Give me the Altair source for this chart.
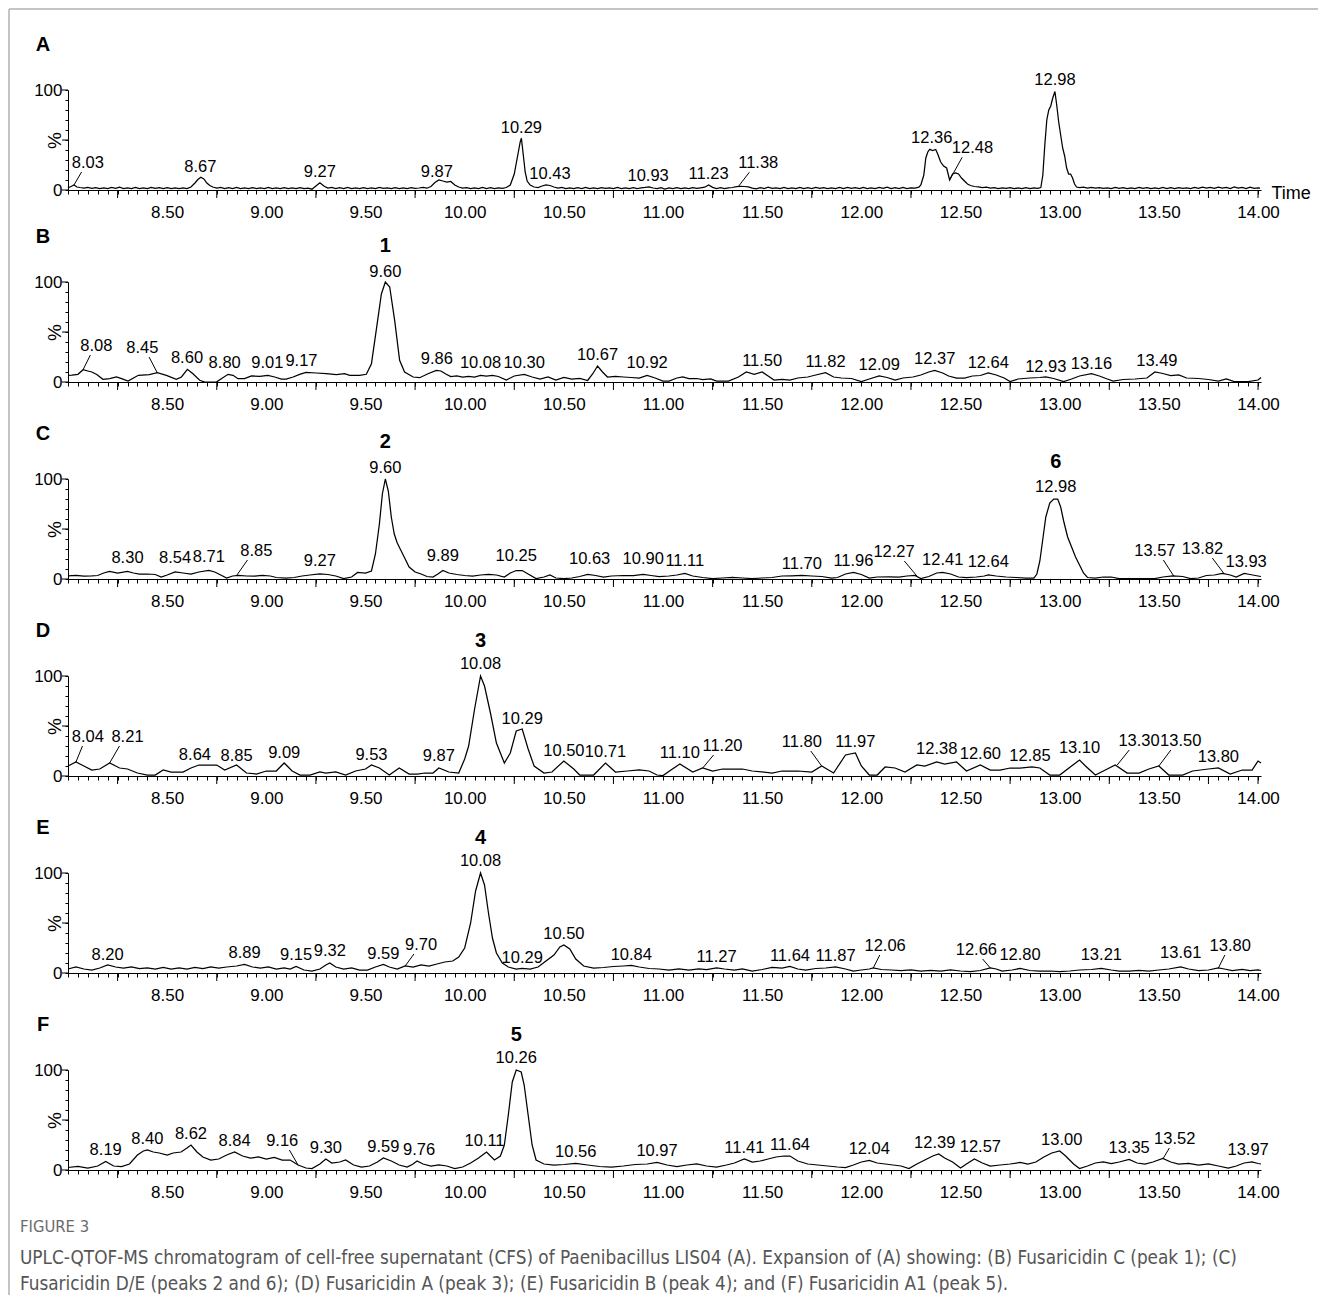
import altair as alt
import pandas as pd

FONT = "'Liberation Sans', Arial, sans-serif"
BOLD_FONT = "'Liberation Sans', Arial, sans-serif"
CAP_FONT = "'DejaVu Sans Condensed', 'Liberation Sans', sans-serif"

X_DOMAIN = [8.0, 14.015]
W, H = 1193, 100

# axis ticks / labels
X_MINOR_TICKS = [round(8.0 + 0.05 * i, 2) for i in range(121)]
X_LONG_TICKS = [8.25, 8.75, 9.25, 9.75, 10.25, 10.75, 11.25, 11.75, 12.25, 12.75, 13.25, 13.75, 14.0]
Y_TICKS = [0, 10, 20, 30, 40, 50, 60, 70, 80, 90, 100]
Y_LONG_TICKS = [0, 50, 100]

# ---------------- traces (retention time, relative intensity %) ----------------
A_TRACE = [(8.00,2.0),(8.015,3.5),(8.03,5.0),(8.045,3.0),(8.06,2.5),(8.08,2.0),(8.10,2.6),(8.12,1.6),(8.14,2.4),(8.16,1.5),(8.18,2.2),(8.20,1.4),(8.22,2.5),(8.24,1.6),(8.26,2.8),(8.28,1.5),(8.30,2.0),(8.32,1.3),(8.34,2.6),(8.36,1.4),(8.38,2.2),(8.40,1.5),(8.42,2.7),(8.44,1.6),(8.46,2.3),(8.48,1.4),(8.50,2.4),(8.52,1.5),(8.54,2.2),(8.56,1.3),(8.58,2.0),(8.60,1.5),(8.62,3.0),(8.64,7.0),(8.655,10.5),(8.67,12.7),(8.685,11.0),(8.70,7.0),(8.715,4.5),(8.73,3.0),(8.75,2.0),(8.77,2.6),(8.79,1.5),(8.81,2.3),(8.83,1.4),(8.85,2.5),(8.87,1.5),(8.89,2.1),(8.91,1.3),(8.93,2.4),(8.95,1.5),(8.97,2.2),(8.99,1.4),(9.01,2.5),(9.03,1.5),(9.05,2.0),(9.07,1.3),(9.09,2.3),(9.11,1.5),(9.13,2.1),(9.15,1.4),(9.17,2.4),(9.19,1.5),(9.21,1.8),(9.23,0.8),(9.25,4.0),(9.27,7.3),(9.29,4.0),(9.31,2.0),(9.33,2.6),(9.35,1.5),(9.37,2.3),(9.39,1.4),(9.41,2.5),(9.43,1.5),(9.45,2.2),(9.47,1.3),(9.49,2.4),(9.51,1.5),(9.53,2.0),(9.55,1.3),(9.57,2.5),(9.59,1.6),(9.61,2.2),(9.63,1.4),(9.65,2.4),(9.67,1.5),(9.69,2.1),(9.71,1.3),(9.73,2.3),(9.75,1.6),(9.77,2.0),(9.79,2.6),(9.81,1.8),(9.83,3.5),(9.85,7.5),(9.87,10.0),(9.89,9.0),(9.91,8.0),(9.93,8.5),(9.95,5.0),(9.97,3.0),(9.99,2.0),(10.01,2.4),(10.03,1.5),(10.05,2.2),(10.07,1.4),(10.09,2.5),(10.11,1.5),(10.13,2.3),(10.15,1.4),(10.17,2.2),(10.19,1.6),(10.21,2.5),(10.23,5.0),(10.25,16.0),(10.265,32.0),(10.28,48.0),(10.286,51.7),(10.295,36.0),(10.305,18.0),(10.315,9.0),(10.33,5.0),(10.35,3.0),(10.37,2.5),(10.39,4.0),(10.41,5.0),(10.43,4.5),(10.45,3.0),(10.47,2.0),(10.49,2.5),(10.51,1.5),(10.53,2.2),(10.55,1.4),(10.57,2.4),(10.59,1.5),(10.61,2.6),(10.63,1.4),(10.65,2.2),(10.67,1.5),(10.69,2.4),(10.71,1.6),(10.73,2.2),(10.75,1.3),(10.77,2.5),(10.79,1.5),(10.81,2.1),(10.83,1.4),(10.85,2.3),(10.87,1.5),(10.89,2.2),(10.91,2.6),(10.93,3.2),(10.95,2.0),(10.97,1.5),(10.99,2.3),(11.01,1.0),(11.03,2.0),(11.05,1.4),(11.07,2.4),(11.09,1.5),(11.11,2.2),(11.13,1.3),(11.15,2.4),(11.17,1.6),(11.19,2.2),(11.21,2.8),(11.23,5.0),(11.25,2.6),(11.27,1.5),(11.29,2.3),(11.31,1.4),(11.33,2.2),(11.35,2.5),(11.37,3.4),(11.39,3.6),(11.41,3.5),(11.43,3.2),(11.45,1.8),(11.47,1.2),(11.49,2.4),(11.51,1.5),(11.53,2.8),(11.55,1.6),(11.57,2.2),(11.59,1.4),(11.61,2.5),(11.63,1.5),(11.65,2.2),(11.67,1.3),(11.69,2.6),(11.71,1.5),(11.73,2.3),(11.75,1.4),(11.77,2.5),(11.79,1.6),(11.81,2.4),(11.83,1.5),(11.85,2.2),(11.87,1.4),(11.89,2.6),(11.91,1.5),(11.93,2.7),(11.95,1.6),(11.97,2.3),(11.99,1.4),(12.01,2.6),(12.03,1.5),(12.05,2.2),(12.07,1.4),(12.09,2.5),(12.11,1.6),(12.13,2.8),(12.15,1.5),(12.17,2.3),(12.19,1.4),(12.21,2.6),(12.23,1.5),(12.25,2.2),(12.27,2.0),(12.29,2.8),(12.30,5.0),(12.315,15.0),(12.325,32.0),(12.335,38.0),(12.345,40.7),(12.36,39.5),(12.375,40.5),(12.385,36.0),(12.40,28.0),(12.415,24.0),(12.43,22.0),(12.445,10.0),(12.46,16.0),(12.475,17.0),(12.49,16.0),(12.505,12.0),(12.52,9.0),(12.535,6.0),(12.55,4.5),(12.57,3.5),(12.59,3.2),(12.61,2.5),(12.63,2.8),(12.65,1.8),(12.67,2.4),(12.69,1.5),(12.71,2.2),(12.73,1.6),(12.75,2.4),(12.77,1.5),(12.79,2.0),(12.81,1.4),(12.83,2.3),(12.85,1.5),(12.87,2.2),(12.89,1.6),(12.905,2.5),(12.915,15.0),(12.925,45.0),(12.935,70.0),(12.945,80.0),(12.955,84.0),(12.965,92.0),(12.976,98.5),(12.985,85.0),(12.995,68.0),(13.005,55.0),(13.015,42.0),(13.025,34.0),(13.035,22.0),(13.045,16.0),(13.055,16.0),(13.065,12.0),(13.075,6.0),(13.085,3.0),(13.10,2.5),(13.12,2.8),(13.14,2.0),(13.16,2.6),(13.18,1.8),(13.20,2.4),(13.22,1.6),(13.24,2.2),(13.26,1.5),(13.28,2.5),(13.30,1.6),(13.32,2.3),(13.34,1.4),(13.36,2.2),(13.38,1.5),(13.40,2.5),(13.42,1.6),(13.44,2.4),(13.46,1.5),(13.48,2.2),(13.50,1.4),(13.52,2.6),(13.54,1.5),(13.56,2.3),(13.58,1.4),(13.60,2.4),(13.62,1.6),(13.64,2.2),(13.66,1.5),(13.68,2.6),(13.70,1.6),(13.72,2.8),(13.74,1.8),(13.76,2.6),(13.78,1.6),(13.80,2.9),(13.82,1.8),(13.84,2.5),(13.86,1.5),(13.88,3.0),(13.90,1.8),(13.92,2.6),(13.94,1.5),(13.96,2.8),(13.98,1.6),(14.00,2.2),(14.01,1.8)]

B_TRACE = [(8.0,6.5),(8.02,6.8),(8.05,7.7),(8.076,12.3),(8.10,11.0),(8.12,10.0),(8.145,7.5),(8.176,2.7),(8.21,3.3),(8.244,5.0),(8.27,3.3),(8.303,1.0),(8.33,4.0),(8.355,6.7),(8.41,7.3),(8.45,9.3),(8.496,6.7),(8.546,2.7),(8.572,5.0),(8.602,12.7),(8.63,8.3),(8.664,1.7),(8.69,0.0),(8.748,0.0),(8.773,3.3),(8.807,7.7),(8.832,6.7),(8.857,3.3),(8.89,3.3),(8.925,6.0),(8.967,5.7),(9.008,6.7),(9.042,5.0),(9.076,3.0),(9.10,3.0),(9.135,5.0),(9.168,7.7),(9.20,9.7),(9.252,9.0),(9.302,8.3),(9.353,7.3),(9.395,8.3),(9.42,6.7),(9.47,6.7),(9.504,7.7),(9.53,18.3),(9.554,51.7),(9.58,88.0),(9.60,100.0),(9.622,95.0),(9.647,61.7),(9.672,21.7),(9.697,10.0),(9.74,5.0),(9.773,4.3),(9.815,8.3),(9.857,11.7),(9.88,11.0),(9.907,7.7),(9.93,5.5),(9.96,6.0),(9.99,5.0),(10.02,5.5),(10.05,5.0),(10.08,6.5),(10.11,6.0),(10.14,6.5),(10.17,5.5),(10.21,2.0),(10.25,6.0),(10.30,7.5),(10.34,5.0),(10.38,3.0),(10.42,5.0),(10.46,2.0),(10.50,4.5),(10.54,3.0),(10.58,3.5),(10.62,1.5),(10.645,8.0),(10.67,16.0),(10.695,10.0),(10.72,5.0),(10.76,5.5),(10.80,5.0),(10.84,4.5),(10.88,4.0),(10.92,6.5),(10.96,4.0),(11.0,1.0),(11.03,1.0),(11.07,4.0),(11.10,5.0),(11.13,3.5),(11.17,3.5),(11.20,2.5),(11.24,3.0),(11.27,1.0),(11.33,1.0),(11.38,5.0),(11.42,10.0),(11.46,7.7),(11.50,10.0),(11.53,6.0),(11.56,2.0),(11.60,2.5),(11.64,2.0),(11.68,4.0),(11.73,5.0),(11.77,7.0),(11.82,9.3),(11.86,5.0),(11.90,4.0),(11.95,3.5),(12.0,0.5),(12.04,3.0),(12.09,6.0),(12.13,4.5),(12.17,2.0),(12.21,4.0),(12.26,5.0),(12.30,7.0),(12.34,10.0),(12.37,11.7),(12.41,9.0),(12.44,6.0),(12.48,4.0),(12.52,4.0),(12.56,6.0),(12.60,6.5),(12.64,9.0),(12.68,7.0),(12.72,4.0),(12.75,0.5),(12.79,3.0),(12.85,4.0),(12.90,4.5),(12.93,5.0),(12.97,3.5),(13.02,0.5),(13.06,3.0),(13.10,6.0),(13.16,8.3),(13.20,6.0),(13.24,3.0),(13.27,1.0),(13.32,2.5),(13.38,3.0),(13.44,4.0),(13.48,10.0),(13.52,8.5),(13.56,6.5),(13.60,7.0),(13.64,4.0),(13.70,3.5),(13.75,2.5),(13.80,1.0),(13.84,3.0),(13.88,0.5),(13.95,0.5),(14.0,2.0),(14.015,4.5)]

C_TRACE = [(8.0,3.2),(8.04,3.5),(8.08,3.0),(8.12,3.2),(8.15,3.5),(8.18,6.0),(8.21,7.5),(8.25,6.0),(8.30,7.5),(8.33,6.0),(8.36,5.0),(8.40,5.0),(8.44,4.5),(8.47,2.0),(8.50,4.0),(8.54,7.0),(8.58,6.0),(8.62,5.0),(8.66,7.0),(8.71,8.5),(8.74,7.0),(8.77,4.0),(8.80,1.0),(8.83,3.0),(8.86,3.5),(8.90,3.0),(8.94,2.8),(8.98,3.5),(9.02,3.0),(9.05,1.5),(9.10,1.0),(9.14,1.5),(9.18,3.0),(9.22,4.0),(9.27,5.0),(9.31,4.5),(9.35,3.0),(9.39,0.5),(9.43,2.0),(9.46,6.5),(9.50,6.0),(9.53,8.0),(9.55,25.0),(9.57,55.0),(9.585,85.0),(9.60,100.0),(9.615,88.0),(9.63,62.0),(9.645,45.0),(9.66,36.0),(9.68,28.0),(9.70,20.0),(9.72,12.0),(9.75,7.0),(9.78,5.0),(9.81,2.5),(9.84,2.0),(9.865,5.0),(9.89,8.5),(9.92,6.0),(9.96,4.5),(10.0,3.5),(10.04,3.0),(10.08,4.0),(10.12,4.5),(10.16,4.0),(10.20,2.0),(10.23,6.0),(10.26,8.5),(10.29,8.5),(10.32,5.0),(10.36,0.5),(10.40,2.0),(10.43,4.0),(10.46,1.0),(10.50,0.5),(10.54,1.0),(10.58,2.5),(10.62,4.5),(10.66,3.5),(10.70,2.0),(10.74,3.0),(10.80,3.5),(10.85,3.5),(10.90,4.5),(10.94,3.5),(10.98,2.5),(11.03,3.0),(11.07,4.0),(11.11,5.5),(11.15,3.0),(11.20,1.5),(11.25,0.5),(11.30,1.0),(11.35,1.5),(11.40,1.0),(11.45,0.5),(11.50,1.0),(11.55,1.5),(11.60,3.0),(11.65,3.2),(11.70,3.5),(11.75,3.0),(11.80,2.5),(11.85,1.0),(11.88,1.5),(11.92,5.0),(11.96,6.5),(12.0,4.5),(12.04,1.0),(12.08,2.0),(12.14,2.2),(12.19,2.0),(12.23,3.0),(12.27,3.5),(12.30,0.5),(12.34,2.5),(12.38,6.0),(12.41,6.5),(12.45,5.0),(12.49,2.0),(12.53,1.5),(12.58,2.0),(12.62,3.0),(12.64,4.0),(12.68,3.0),(12.73,2.0),(12.78,1.5),(12.83,1.0),(12.87,1.0),(12.885,5.0),(12.90,18.0),(12.915,40.0),(12.93,62.0),(12.95,76.0),(12.97,80.0),(12.99,80.0),(13.005,72.0),(13.02,58.0),(13.04,42.0),(13.06,32.0),(13.08,22.0),(13.10,14.0),(13.12,6.0),(13.14,1.5),(13.18,1.0),(13.22,2.0),(13.26,2.0),(13.30,0.5),(13.40,0.5),(13.48,0.5),(13.52,2.0),(13.57,3.2),(13.62,2.5),(13.66,0.5),(13.70,1.0),(13.74,3.5),(13.78,4.0),(13.82,5.5),(13.86,4.0),(13.89,2.0),(13.93,5.5),(13.96,4.5),(14.0,3.0),(14.015,2.5)]

D_TRACE = [(8.0,10.0),(8.04,14.0),(8.08,10.0),(8.12,6.0),(8.16,7.0),(8.21,13.0),(8.26,8.0),(8.30,7.0),(8.35,3.0),(8.40,1.0),(8.44,1.0),(8.48,6.0),(8.52,4.0),(8.58,4.0),(8.62,8.0),(8.66,11.0),(8.70,11.0),(8.75,11.0),(8.79,6.0),(8.85,11.0),(8.90,3.0),(8.95,2.0),(9.0,5.0),(9.05,5.0),(9.09,13.0),(9.13,5.0),(9.17,1.0),(9.22,1.0),(9.27,4.0),(9.30,3.0),(9.35,4.0),(9.40,1.0),(9.45,5.0),(9.50,7.0),(9.53,11.0),(9.57,8.0),(9.62,1.0),(9.67,8.0),(9.72,2.0),(9.76,2.0),(9.80,3.0),(9.84,3.0),(9.87,8.0),(9.92,4.0),(9.97,3.0),(10.0,17.0),(10.02,30.0),(10.05,67.0),(10.08,100.0),(10.10,90.0),(10.13,63.0),(10.16,33.0),(10.20,13.0),(10.23,23.0),(10.26,45.0),(10.29,47.0),(10.32,27.0),(10.35,10.0),(10.40,3.0),(10.44,4.0),(10.50,15.0),(10.55,7.0),(10.58,1.0),(10.65,1.0),(10.71,13.0),(10.76,4.0),(10.82,5.0),(10.88,6.0),(10.93,5.0),(10.97,1.0),(11.0,0.5),(11.04,6.0),(11.085,12.0),(11.15,4.0),(11.20,8.0),(11.25,5.0),(11.30,7.0),(11.40,7.0),(11.45,5.0),(11.55,3.0),(11.60,5.0),(11.68,5.0),(11.75,4.0),(11.80,10.0),(11.86,3.0),(11.92,21.0),(11.97,23.0),(12.0,10.0),(12.04,1.0),(12.08,1.0),(12.12,9.0),(12.17,8.0),(12.22,4.0),(12.28,11.0),(12.32,10.0),(12.38,14.0),(12.42,12.0),(12.48,14.0),(12.53,5.0),(12.60,11.0),(12.65,6.0),(12.70,6.0),(12.75,8.0),(12.80,8.0),(12.86,9.0),(12.90,8.0),(12.95,1.0),(13.0,1.0),(13.06,10.0),(13.10,16.0),(13.13,10.0),(13.18,1.0),(13.24,7.0),(13.28,11.0),(13.34,3.0),(13.40,3.0),(13.45,7.0),(13.50,10.0),(13.55,1.0),(13.62,1.0),(13.67,5.0),(13.75,7.0),(13.80,8.0),(13.86,2.0),(13.92,6.0),(13.97,6.0),(14.0,15.0),(14.015,13.0)]

E_TRACE = [(8.0,4.0),(8.04,6.0),(8.08,4.0),(8.12,3.0),(8.16,5.0),(8.20,8.0),(8.24,6.0),(8.28,5.0),(8.32,6.0),(8.36,4.5),(8.40,5.0),(8.44,4.0),(8.48,5.5),(8.52,4.0),(8.56,5.0),(8.60,4.0),(8.64,5.5),(8.68,4.5),(8.72,6.0),(8.76,5.0),(8.80,6.0),(8.85,7.0),(8.89,8.5),(8.93,6.0),(8.97,5.0),(9.01,6.0),(9.05,4.0),(9.09,5.0),(9.12,4.0),(9.15,6.5),(9.19,3.0),(9.23,2.0),(9.27,4.0),(9.30,8.0),(9.32,10.0),(9.35,6.0),(9.39,4.0),(9.43,5.0),(9.47,3.0),(9.51,3.0),(9.55,6.0),(9.59,8.5),(9.62,6.0),(9.66,4.0),(9.70,7.0),(9.74,6.0),(9.78,8.0),(9.82,7.0),(9.86,9.0),(9.90,11.0),(9.94,12.0),(9.97,16.0),(10.0,25.0),(10.03,50.0),(10.055,82.0),(10.08,100.0),(10.10,88.0),(10.12,60.0),(10.14,35.0),(10.16,20.0),(10.19,10.0),(10.22,6.0),(10.26,4.0),(10.29,4.5),(10.33,4.0),(10.37,6.0),(10.41,12.0),(10.45,18.0),(10.48,26.0),(10.50,28.0),(10.53,24.0),(10.56,14.0),(10.60,7.0),(10.65,5.0),(10.70,5.5),(10.75,6.5),(10.80,7.0),(10.84,7.5),(10.88,6.0),(10.93,4.5),(10.98,4.0),(11.03,3.0),(11.08,4.0),(11.13,3.0),(11.18,4.0),(11.22,3.5),(11.27,5.0),(11.31,4.0),(11.36,3.0),(11.40,4.0),(11.45,2.0),(11.50,3.5),(11.55,5.5),(11.60,5.0),(11.64,6.5),(11.68,4.0),(11.72,3.0),(11.77,4.5),(11.82,5.0),(11.87,6.0),(11.92,4.0),(11.96,2.0),(12.0,3.0),(12.04,4.0),(12.06,5.0),(12.10,3.5),(12.15,3.0),(12.20,2.5),(12.25,3.0),(12.30,2.0),(12.35,2.5),(12.40,2.0),(12.45,3.0),(12.50,2.0),(12.55,1.5),(12.60,2.5),(12.65,5.0),(12.68,4.0),(12.71,2.0),(12.76,3.0),(12.80,4.5),(12.85,2.5),(12.90,2.0),(12.95,2.0),(13.0,1.5),(13.05,2.0),(13.10,3.0),(13.16,3.5),(13.21,4.5),(13.26,3.0),(13.30,2.0),(13.35,2.0),(13.40,2.5),(13.45,2.0),(13.50,3.0),(13.55,4.0),(13.61,6.0),(13.65,4.0),(13.70,2.5),(13.75,3.0),(13.80,5.0),(13.83,4.0),(13.87,2.5),(13.92,3.5),(13.96,2.5),(14.0,3.0),(14.015,2.5)]

F_TRACE = [(8.0,2.5),(8.05,3.5),(8.10,2.0),(8.15,4.0),(8.19,8.5),(8.23,4.0),(8.27,3.5),(8.31,6.0),(8.35,15.0),(8.38,19.0),(8.40,20.0),(8.43,18.0),(8.46,17.0),(8.50,15.0),(8.53,17.0),(8.57,18.0),(8.60,22.0),(8.62,25.0),(8.65,18.0),(8.68,13.0),(8.72,10.0),(8.76,11.0),(8.80,15.0),(8.84,18.0),(8.88,14.0),(8.92,12.0),(8.96,13.0),(9.0,11.0),(9.04,12.5),(9.08,10.0),(9.12,10.0),(9.16,5.0),(9.20,2.0),(9.23,1.5),(9.27,6.0),(9.30,11.0),(9.33,7.0),(9.37,8.0),(9.40,10.0),(9.44,5.0),(9.48,3.0),(9.52,4.0),(9.56,8.0),(9.59,12.0),(9.63,9.0),(9.67,5.0),(9.71,3.0),(9.74,6.0),(9.76,9.0),(9.79,6.0),(9.83,4.0),(9.87,5.0),(9.91,4.0),(9.95,1.5),(9.99,3.0),(10.03,7.0),(10.07,12.0),(10.11,18.0),(10.15,10.0),(10.18,14.0),(10.20,25.0),(10.22,55.0),(10.24,88.0),(10.26,100.0),(10.285,98.0),(10.30,85.0),(10.32,55.0),(10.34,25.0),(10.36,10.0),(10.40,6.0),(10.45,5.0),(10.50,5.5),(10.56,6.5),(10.62,5.0),(10.68,3.5),(10.74,3.0),(10.80,4.0),(10.86,5.5),(10.92,6.0),(10.97,7.5),(11.02,5.0),(11.07,3.5),(11.12,5.0),(11.17,6.0),(11.22,4.0),(11.27,3.0),(11.32,5.0),(11.36,7.0),(11.41,11.0),(11.45,8.0),(11.49,9.0),(11.53,11.0),(11.57,13.0),(11.61,14.0),(11.64,14.0),(11.68,9.0),(11.73,6.0),(11.78,5.0),(11.83,4.0),(11.88,3.0),(11.92,2.5),(11.96,5.0),(12.0,8.0),(12.04,9.5),(12.08,7.0),(12.12,6.0),(12.16,5.0),(12.20,4.0),(12.24,1.5),(12.28,6.0),(12.32,10.0),(12.36,14.0),(12.39,16.0),(12.42,12.0),(12.46,8.0),(12.50,2.0),(12.53,6.0),(12.57,11.0),(12.61,7.0),(12.65,4.0),(12.70,5.0),(12.75,6.0),(12.80,7.5),(12.84,6.0),(12.88,8.0),(12.92,13.0),(12.96,17.0),(13.0,19.0),(13.03,14.0),(13.07,6.0),(13.10,1.5),(13.14,4.0),(13.18,7.0),(13.22,8.0),(13.26,6.5),(13.30,8.0),(13.35,10.5),(13.39,7.0),(13.43,6.0),(13.47,8.0),(13.52,11.5),(13.56,8.0),(13.60,6.0),(13.65,6.5),(13.70,5.0),(13.75,6.0),(13.80,4.0),(13.85,2.0),(13.89,4.0),(13.93,7.0),(13.97,8.0),(14.0,6.5),(14.015,6.0)]

# ---------------- peak labels: (text, label centre time, label centre %) ----------------
A_LABELS = [("8.03",8.10,27),("8.67",8.667,23.5),("9.27",9.27,18),("9.87",9.86,18.5),("10.29",10.286,62),("10.43",10.43,16),("10.93",10.925,14),("11.23",11.23,16),("11.38",11.48,26.7),("12.36",12.355,52.5),("12.48",12.56,41.7),("12.98",12.976,110)]
B_LABELS = [("8.08",8.143,36),("8.45",8.375,34),("8.60",8.60,24),("8.80",8.79,19),("9.01",9.005,19),("9.17",9.177,21),("9.60",9.60,110),("9.86",9.86,23),("10.08",10.08,19),("10.30",10.30,19),("10.67",10.67,27),("10.92",10.92,19),("11.50",11.50,21),("11.82",11.82,20),("12.09",12.09,17),("12.37",12.37,23),("12.64",12.64,19),("12.93",12.93,15.5),("13.16",13.16,18.5),("13.49",13.49,21)]
C_LABELS = [("8.30",8.30,21),("8.54",8.54,21),("8.71",8.71,22),("8.85",8.95,28),("9.27",9.27,18),("9.60",9.60,111),("9.89",9.89,23),("10.25",10.26,23),("10.63",10.63,20),("10.90",10.90,20),("11.11",11.11,18),("11.70",11.70,15),("11.96",11.96,18.5),("12.27",12.165,27),("12.41",12.41,19),("12.64",12.64,17),("12.98",12.98,92),("13.57",13.48,28),("13.82",13.72,30),("13.93",13.94,17)]
D_LABELS = [("8.04",8.10,39),("8.21",8.30,39),("8.64",8.64,21),("8.85",8.85,20),("9.09",9.09,23),("9.53",9.53,21),("9.87",9.87,20),("10.08",10.08,112),("10.29",10.29,57),("10.50",10.50,25),("10.71",10.71,24),("11.10",11.085,23),("11.20",11.30,30),("11.80",11.70,34),("11.97",11.97,34),("12.38",12.38,27),("12.60",12.60,22),("12.85",12.85,20),("13.10",13.10,28),("13.30",13.40,35),("13.50",13.61,35),("13.80",13.80,19)]
E_LABELS = [("8.20",8.20,18),("8.89",8.89,20),("9.15",9.15,18),("9.32",9.32,22),("9.59",9.59,19),("9.70",9.78,28),("10.08",10.08,112),("10.29",10.29,15),("10.50",10.50,39),("10.84",10.84,18),("11.27",11.27,16),("11.64",11.64,17),("11.87",11.87,17),("12.06",12.12,27),("12.66",12.58,23),("12.80",12.80,18),("13.21",13.21,18),("13.61",13.61,20),("13.80",13.86,27)]
F_LABELS = [("8.19",8.19,20),("8.40",8.40,31),("8.62",8.62,36),("8.84",8.84,29),("9.16",9.08,29),("9.30",9.30,22),("9.59",9.59,23),("9.76",9.77,20),("10.11",10.10,29),("10.26",10.26,112),("10.56",10.56,18),("10.97",10.97,19),("11.41",11.41,22),("11.64",11.64,25),("12.04",12.04,21),("12.39",12.37,27),("12.57",12.60,23),("13.00",13.01,30),("13.35",13.35,22),("13.52",13.58,31),("13.97",13.95,20)]

# leader lines: (label text, peak time, peak %)
A_LEADERS = [("8.03",8.03,5),("11.38",11.38,3.5),("12.48",12.445,10)]
B_LEADERS = [("8.08",8.076,12.3),("8.45",8.45,9.3)]
C_LEADERS = [("8.85",8.85,3.5),("12.27",12.28,3),("13.57",13.575,3),("13.82",13.83,5)]
D_LEADERS = [("8.04",8.04,14),("8.21",8.21,13),("11.20",11.20,8),("11.80",11.80,10),("13.30",13.29,11),("13.50",13.50,10)]
E_LEADERS = [("9.70",9.70,7),("12.06",12.06,5),("12.66",12.65,5),("13.80",13.80,5)]
F_LEADERS = [("9.16",9.16,5),("13.52",13.52,11)]

# bold compound numbers: (text, time, %)
B_NUMS = [("1",9.60,136)]
C_NUMS = [("2",9.60,137),("6",12.98,117)]
D_NUMS = [("3",10.08,135)]
E_NUMS = [("4",10.08,135)]
F_NUMS = [("5",10.26,135)]

CAPTION_HEAD = "FIGURE 3"
CAPTION_LINES = [
    "UPLC-QTOF-MS chromatogram of cell-free supernatant (CFS) of Paenibacillus LIS04 (A). Expansion of (A) showing: (B) Fusaricidin C (peak 1); (C)",
    "Fusaricidin D/E (peaks 2 and 6); (D) Fusaricidin A (peak 3); (E) Fusaricidin B (peak 4); and (F) Fusaricidin A1 (peak 5).",
]

LABEL_EXPR_X = "(abs(datum.value * 2 - round(datum.value * 2)) < 0.001 && datum.value > 8.2) ? datum.label : ''"
LABEL_EXPR_Y = "(datum.value == 0 || datum.value == 100) ? datum.label : ''"


def panel(letter, trace, labels, leaders, nums, first=False, last=False):
    xs = alt.Scale(domain=X_DOMAIN, nice=False, zero=False)
    ys = alt.Scale(domain=[0, 100], nice=False)
    xkw = dict(values=X_MINOR_TICKS, format=".2f", labelExpr=LABEL_EXPR_X, tickSize=4,
               tickColor="black", tickWidth=1, domainColor="black", domainWidth=1,
               labelFont=FONT, labelFontSize=17, labelColor="black", labelPadding=10,
               labelOverlap=False, labelFlush=False, grid=False)
    if first:
        xkw.update(title="Time", titleX=1203, titleY=3, titleAlign="left", titleBaseline="middle",
                   titleFont=FONT, titleFontSize=18, titleFontWeight="normal", titleColor="black")
    else:
        xkw.update(title=None)
    xaxis = alt.Axis(**xkw)
    yaxis = alt.Axis(values=Y_TICKS, labelExpr=LABEL_EXPR_Y, tickSize=3, tickColor="black",
                     domainColor="black", labelFont=FONT, labelFontSize=17, labelColor="black",
                     labelPadding=3, grid=False, title="%", titleFont=FONT, titleFontSize=19,
                     titleFontWeight="normal", titleColor="black", titleX=-14, titleY=50,
                     titleAngle=270, titleAlign="center", titleBaseline="middle")

    df = pd.DataFrame(trace, columns=["t", "v"])
    line = alt.Chart(df).mark_line(color="black", strokeWidth=1.25).encode(
        x=alt.X("t:Q", scale=xs, axis=xaxis), y=alt.Y("v:Q", scale=ys, axis=yaxis))

    xlong = alt.Chart(pd.DataFrame({"t": X_LONG_TICKS})).mark_rule(color="black", strokeWidth=1).encode(
        x=alt.X("t:Q", scale=xs, axis=xaxis), y=alt.value(H), y2=alt.value(H + 8))
    ylong = alt.Chart(pd.DataFrame({"v": Y_LONG_TICKS})).mark_rule(color="black", strokeWidth=1).encode(
        y=alt.Y("v:Q", scale=ys, axis=yaxis), x=alt.value(-6), x2=alt.value(0))

    lab_df = pd.DataFrame(labels, columns=["lab", "lx", "ly"])
    texts = alt.Chart(lab_df).mark_text(font=FONT, fontSize=16.5, color="black", align="center",
                                        baseline="middle").encode(
        x=alt.X("lx:Q", scale=xs, axis=xaxis), y=alt.Y("ly:Q", scale=ys, axis=yaxis), text="lab:N")

    pos = {lab: (lx, ly) for lab, lx, ly in labels}
    rows = []
    for lab, fx, fy in leaders:
        lx, ly = pos[lab]
        dt = lx - fx
        rows.append({"x1": fx, "y1": fy, "x2": lx - 0.45 * dt, "y2": ly - 9})
    lead = alt.Chart(pd.DataFrame(rows)).mark_rule(color="black", strokeWidth=1).encode(
        x=alt.X("x1:Q", scale=xs, axis=xaxis), y=alt.Y("y1:Q", scale=ys, axis=yaxis),
        x2="x2:Q", y2="y2:Q")

    one = pd.DataFrame({"k": [0]})
    letter_mark = alt.Chart(one).mark_text(font=BOLD_FONT, fontSize=20, fontWeight="bold",
                                           color="black", align="center", baseline="middle").encode(
        x=alt.value(-25), y=alt.value(-45), text=alt.value(letter))

    layers = [line, xlong, ylong, lead, texts, letter_mark]

    if nums:
        num_df = pd.DataFrame(nums, columns=["n", "t", "v"])
        layers.append(alt.Chart(num_df).mark_text(font=BOLD_FONT, fontSize=20, fontWeight="bold",
                                                  color="black", align="center", baseline="middle").encode(
            x=alt.X("t:Q", scale=xs, axis=xaxis), y=alt.Y("v:Q", scale=ys, axis=yaxis), text="n:N"))

    if first:
        frame_top = alt.Chart(one).mark_rule(color="#c4c4c4", strokeWidth=2).encode(
            x=alt.value(-59), x2=alt.value(1250), y=alt.value(-81))
        frame_left = alt.Chart(one).mark_rule(color="#c4c4c4", strokeWidth=2).encode(
            x=alt.value(-59), y=alt.value(-81), y2=alt.value(1205))
        layers += [frame_top, frame_left]
    if last:
        head = alt.Chart(pd.DataFrame({"txt": [CAPTION_HEAD]})).mark_text(
            font=CAP_FONT, fontSize=16.5, color="#6b6b6b", align="left", baseline="middle").encode(
            x=alt.value(-48), y=alt.value(157), text="txt:N")
        l1 = alt.Chart(pd.DataFrame({"txt": [CAPTION_LINES[0]]})).mark_text(
            font=CAP_FONT, fontSize=18.8, color="#555555", align="left", baseline="middle").encode(
            x=alt.value(-48), y=alt.value(188), text="txt:N")
        l2 = alt.Chart(pd.DataFrame({"txt": [CAPTION_LINES[1]]})).mark_text(
            font=CAP_FONT, fontSize=18.8, color="#555555", align="left", baseline="middle").encode(
            x=alt.value(-48), y=alt.value(214), text="txt:N")
        layers += [head, l1, l2]

    return alt.layer(*layers).properties(width=W, height=H)


pA = panel("A", A_TRACE, A_LABELS, A_LEADERS, [], first=True)
pB = panel("B", B_TRACE, B_LABELS, B_LEADERS, B_NUMS)
pC = panel("C", C_TRACE, C_LABELS, C_LEADERS, C_NUMS)
pD = panel("D", D_TRACE, D_LABELS, D_LEADERS, D_NUMS)
pE = panel("E", E_TRACE, E_LABELS, E_LEADERS, E_NUMS)
pF = panel("F", F_TRACE, F_LABELS, F_LEADERS, F_NUMS, last=True)

rest = alt.vconcat(pB, pC, pD, pE, pF, spacing=97, bounds="flush")
chart = alt.vconcat(pA, rest, spacing=92, bounds="flush").properties(
    padding=0, background="white").configure_view(stroke=None)

chart.save("out.html", embed_options={"renderer": "svg", "actions": False})
